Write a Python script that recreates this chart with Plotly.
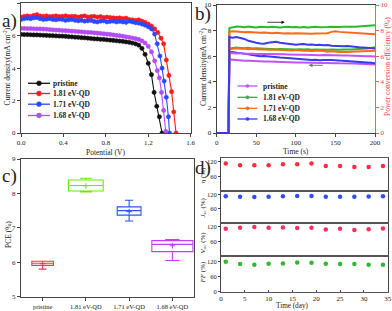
import plotly.graph_objects as go

W, H = 392, 311
FONT = "Liberation Serif"


def px(x):
    return x / W


def py(y):
    return 1 - y / H


# ---------------- (a) J-V curves ----------------
V_PLATEAU = [0.00, 0.03, 0.06, 0.09, 0.12, 0.15, 0.18, 0.21, 0.24, 0.27, 0.30, 0.33,
             0.36, 0.39, 0.42, 0.45, 0.48, 0.51, 0.54, 0.57, 0.60, 0.63, 0.66, 0.69,
             0.72, 0.75, 0.78, 0.81, 0.84, 0.87, 0.90, 0.93, 0.96, 0.99, 1.02, 1.05, 1.08]

J_PRISTINE = [6.08, 6.07, 6.07, 6.06, 6.05, 6.05, 6.04, 6.03, 6.02, 6.01, 6.00, 5.99,
              5.98, 5.97, 5.96, 5.94, 5.93, 5.91, 5.90, 5.88, 5.87, 5.85, 5.83, 5.81,
              5.80, 5.78, 5.77, 5.75, 5.73, 5.71, 5.69, 5.67, 5.65, 5.62, 5.59, 5.55, 5.50]
V_TAIL_PRISTINE = [1.11, 1.14, 1.17, 1.20, 1.23, 1.255, 1.28, 1.305, 1.33]
J_TAIL_PRISTINE = [5.42, 5.22, 4.85, 4.30, 3.60, 2.50, 1.65, 1.00, 0.00]

J_181 = [7.15, 7.20, 7.22, 7.20, 7.25, 7.30, 7.22, 7.20, 7.22, 7.18, 7.20, 7.22,
         7.18, 7.20, 7.22, 7.18, 7.20, 7.20, 7.15, 7.20, 7.22, 7.15, 7.18, 7.20,
         7.15, 7.18, 7.12, 7.15, 7.12, 7.10, 7.08, 7.10, 7.05, 7.08, 7.00, 6.98, 6.95]
V_TAIL_181 = [1.11, 1.14, 1.17, 1.20, 1.23, 1.26, 1.29, 1.32, 1.345, 1.37, 1.395, 1.42, 1.44, 1.462]
J_TAIL_181 = [6.98, 6.90, 6.82, 6.72, 6.60, 6.42, 6.20, 5.85, 5.50, 4.50, 3.55, 2.55, 1.30, 0.00]

J_171 = [7.00, 7.05, 7.08, 7.05, 7.10, 7.12, 7.05, 7.00, 7.02, 7.05, 7.00, 6.98,
         7.02, 7.00, 6.95, 6.98, 7.00, 6.95, 6.92, 6.95, 6.90, 6.92, 6.95, 6.88,
         6.85, 6.90, 6.92, 6.85, 6.88, 6.90, 6.85, 6.88, 6.85, 6.82, 6.90, 6.85, 6.80]
V_TAIL_171 = [1.11, 1.14, 1.17, 1.20, 1.23, 1.26, 1.285, 1.31, 1.33, 1.35, 1.37, 1.39, 1.40]
J_TAIL_171 = [6.78, 6.72, 6.65, 6.55, 6.42, 6.10, 5.50, 4.75, 4.00, 3.20, 2.20, 1.00, 0.00]

J_168 = [6.45, 6.45, 6.44, 6.44, 6.43, 6.42, 6.42, 6.41, 6.40, 6.38, 6.36, 6.35,
         6.34, 6.32, 6.31, 6.30, 6.28, 6.27, 6.25, 6.24, 6.22, 6.21, 6.20, 6.18,
         6.16, 6.14, 6.12, 6.10, 6.08, 6.05, 6.02, 6.00, 5.97, 5.93, 5.90, 5.86, 5.82]
V_TAIL_168 = [1.11, 1.14, 1.17, 1.20, 1.23, 1.26, 1.285, 1.305, 1.325, 1.345, 1.365]
J_TAIL_168 = [5.77, 5.68, 5.55, 5.35, 5.00, 4.45, 3.85, 3.40, 2.50, 1.40, 0.10]

LABELS = ["pristine", "1.81 eV-QD", "1.71 eV-QD", "1.68 eV-QD"]
COLORS_A = ["#111111", "#ff1a1a", "#2a48ff", "#b44cf5"]

# ---------------- (b) stability over time ----------------
T_B = [0, 15, 16, 20, 25, 30, 35, 40, 45, 50, 55, 60, 65, 70, 75, 80, 85, 90, 95, 100,
       105, 110, 115, 120, 125, 130, 135, 140, 145, 150, 155, 160, 165, 170, 175, 180,
       185, 190, 195, 200]

PCE_PRISTINE = [0, 0, 6.20, 6.25, 6.22, 6.24, 6.20, 6.22, 6.20, 6.18, 6.20, 6.18,
                6.17, 6.18, 6.15, 6.16, 6.15, 6.14, 6.15, 6.13, 6.12,
                6.12, 6.10, 6.12, 6.10, 6.08, 6.10, 6.08, 6.07, 6.08,
                6.06, 6.05, 6.06, 6.04, 6.03, 6.02, 6.03, 6.00, 6.00, 5.98]
J_T_PRISTINE = [0, 0, 5.75, 5.72, 5.70, 5.68, 5.65, 5.65, 5.62, 5.60, 5.60, 5.58,
                5.58, 5.56, 5.55, 5.55, 5.53, 5.52, 5.52, 5.50, 5.50,
                5.50, 5.48, 5.50, 5.47, 5.48, 5.46, 5.45, 5.46, 5.45,
                5.44, 5.45, 5.43, 5.42, 5.43, 5.41, 5.40, 5.40, 5.38, 5.35]
PCE_181 = [0, 0, 8.20, 8.28, 8.32, 8.30, 8.27, 8.31, 8.29, 8.25, 8.30, 8.28,
           8.26, 8.30, 8.27, 8.24, 8.28, 8.30, 8.26, 8.29, 8.25,
           8.28, 8.24, 8.27, 8.30, 8.26, 8.25, 8.28, 8.30, 8.27,
           8.29, 8.30, 8.28, 8.31, 8.30, 8.33, 8.36, 8.38, 8.40, 8.42]
J_T_181 = [0, 0, 6.60, 6.65, 6.68, 6.65, 6.62, 6.65, 6.60, 6.62, 6.60, 6.58,
           6.60, 6.58, 6.55, 6.57, 6.55, 6.58, 6.55, 6.53, 6.55,
           6.52, 6.55, 6.50, 6.52, 6.50, 6.48, 6.50, 6.52, 6.50,
           6.50, 6.52, 6.50, 6.53, 6.55, 6.55, 6.58, 6.60, 6.65, 6.70]
PCE_171 = [0, 0, 7.90, 7.95, 7.93, 7.90, 7.88, 7.90, 7.86, 7.85, 7.83, 7.85,
           7.82, 7.80, 7.83, 7.80, 7.78, 7.80, 7.77, 7.80, 7.78,
           7.76, 7.78, 7.75, 7.78, 7.80, 7.82, 7.80, 7.90, 7.95,
           7.90, 7.88, 7.85, 7.82, 7.80, 7.78, 7.75, 7.72, 7.70, 7.72]
J_T_171 = [0, 0, 6.55, 6.60, 6.62, 6.58, 6.60, 6.55, 6.58, 6.55, 6.52, 6.55,
           6.50, 6.52, 6.50, 6.48, 6.50, 6.47, 6.45, 6.48, 6.45,
           6.42, 6.45, 6.40, 6.42, 6.45, 6.40, 6.35, 6.38, 6.35,
           6.33, 6.35, 6.32, 6.35, 6.37, 6.35, 6.38, 6.40, 6.40, 6.42]
PCE_168 = [0, 0, 7.50, 7.45, 7.50, 7.42, 7.35, 7.20, 7.10, 7.05, 7.00, 6.98,
           7.05, 7.10, 7.12, 7.05, 7.00, 6.95, 6.92, 6.90, 6.93,
           6.95, 6.90, 6.92, 6.88, 6.90, 6.85, 6.88, 6.82, 6.80,
           6.82, 6.78, 6.80, 6.75, 6.72, 6.70, 6.68, 6.65, 6.62, 6.60]
J_T_168 = [0, 0, 6.30, 6.32, 6.28, 6.25, 6.20, 6.15, 6.10, 6.05, 6.00, 6.02,
           5.98, 5.95, 5.92, 5.90, 5.88, 5.85, 5.82, 5.80, 5.78,
           5.75, 5.72, 5.70, 5.72, 5.68, 5.70, 5.72, 5.70, 5.68,
           5.65, 5.62, 5.60, 5.60, 5.58, 5.55, 5.52, 5.50, 5.48, 5.45]
COLORS_B = ["#c055f5", "#2db82d", "#ff6a13", "#3a3af0"]

# ---------------- (c) PCE statistics ----------------
Q1 = [5.91, 8.07, 7.37, 6.31]
MEDIAN = [5.97, 8.23, 7.50, 6.52]
Q3 = [6.03, 8.39, 7.61, 6.63]
LOWER = [5.80, 8.04, 7.20, 6.05]
UPPER = [6.03, 8.44, 7.80, 6.66]
MEAN = [5.96, 8.22, 7.47, 6.48]
COLORS_C = ["#ff3b3b", "#6ee60a", "#2a55e8", "#c43cf5"]
BOX_WIDTHS = [0.5, 0.8, 0.55, 0.95]

# ---------------- (d) long term stability ----------------
DAYS = [1, 4, 7, 10, 13, 16, 19, 22, 25, 28, 31, 34]
ETA = [113, 106, 106, 106, 110, 110, 113, 103, 103, 99, 99, 103]
JSC = [112, 110, 109, 110, 112, 113, 113, 110, 110, 110, 111, 112]
VOC = [113, 117, 120, 117, 118, 116, 117, 109, 113, 107, 110, 114]
FF = [121, 112, 109, 113, 114, 118, 117, 113, 112, 112, 109, 109]

fig = go.Figure()

# (a)
curves_a = [
    (V_PLATEAU + V_TAIL_PRISTINE, J_PRISTINE + J_TAIL_PRISTINE),
    (V_PLATEAU + V_TAIL_181, J_181 + J_TAIL_181),
    (V_PLATEAU + V_TAIL_171, J_171 + J_TAIL_171),
    (V_PLATEAU + V_TAIL_168, J_168 + J_TAIL_168),
]
for (v, j), col in zip(curves_a, COLORS_A):
    fig.add_trace(go.Scatter(x=v, y=j, mode="lines+markers", xaxis="x", yaxis="y",
                             line=dict(color=col, width=1.1),
                             marker=dict(symbol="circle", size=4.2, color=col,
                                         line=dict(color=col, width=0.6)),
                             showlegend=False))

# (b)
pce_b = [PCE_PRISTINE, PCE_181, PCE_171, PCE_168]
j_b = [J_T_PRISTINE, J_T_181, J_T_171, J_T_168]
for p, j, col in zip(pce_b, j_b, COLORS_B):
    fig.add_trace(go.Scatter(x=T_B, y=j, mode="lines", xaxis="x2", yaxis="y2",
                             line=dict(color=col, width=2), showlegend=False))
    fig.add_trace(go.Scatter(x=T_B, y=p, mode="lines", xaxis="x2", yaxis="y3",
                             line=dict(color=col, width=2), showlegend=False))

# (c)
for i, cat in enumerate(LABELS):
    fig.add_trace(go.Box(x=[cat], q1=[Q1[i]], median=[MEDIAN[i]], q3=[Q3[i]],
                         lowerfence=[LOWER[i]], upperfence=[UPPER[i]],
                         xaxis="x3", yaxis="y4", width=BOX_WIDTHS[i],
                         line=dict(color=COLORS_C[i], width=1.1),
                         fillcolor="rgba(255,255,255,0)", whiskerwidth=0.35,
                         boxpoints=False, showlegend=False, name=cat))
fig.add_trace(go.Scatter(x=LABELS, y=MEAN, mode="markers", xaxis="x3", yaxis="y4",
                         marker=dict(symbol="cross-thin", size=4,
                                     line=dict(color=COLORS_C, width=1)),
                         showlegend=False))

# (d)
d_series = [(ETA, "#ff2d3c", "x4", "y5"), (JSC, "#2f4cff", "x5", "y6"),
            (VOC, "#ff2d5e", "x6", "y7"), (FF, "#2dbb2d", "x7", "y8")]
for vals, col, xa, ya in d_series:
    fig.add_trace(go.Scatter(x=DAYS, y=vals, mode="markers", xaxis=xa, yaxis=ya,
                             marker=dict(size=4.5, color=col), showlegend=False))

LINE = "#444444"
TICKFONT = dict(family=FONT, size=7, color="#222222")


def ax(domain, anchor, **kw):
    d = dict(domain=domain, anchor=anchor, showline=True, linecolor=LINE, linewidth=1,
             mirror=True, ticks="outside", ticklen=3, tickwidth=0.8, tickcolor=LINE,
             showgrid=False, zeroline=False, tickfont=TICKFONT, automargin=False)
    d.update(kw)
    return d


d_x = [px(221), px(387.7)]
layout = dict(
    width=W, height=H, margin=dict(l=0, r=0, t=0, b=0),
    paper_bgcolor="white", plot_bgcolor="white", boxmode="overlay",
    font=dict(family=FONT, size=7, color="#222222"),
    xaxis=ax([px(21), px(190.7)], "y", range=[0, 1.6], tickvals=[0, 0.4, 0.8, 1.2, 1.6],
             tickformat=".1f"),
    yaxis=ax([py(133), py(3.3)], "x", range=[0, 8], dtick=2),
    xaxis2=ax([px(216.7), px(375)], "y2", range=[0, 200], dtick=50),
    yaxis2=ax([py(133), py(5)], "x2", range=[0, 10], dtick=2, mirror=False),
    yaxis3=dict(overlaying="y2", side="right", anchor="x2", range=[0, 10], dtick=2,
                showline=True, linecolor="#ff5a5a", linewidth=1, ticks="outside",
                ticklen=3, tickcolor="#ff5a5a", showgrid=False, zeroline=False,
                tickfont=dict(family=FONT, size=7, color="#ff3b3b"), automargin=False),
    xaxis3=ax([px(21), px(194)], "y4", type="category", range=[-0.5, 3.5],
              tickfont=dict(family=FONT, size=6.5, color="#222222")),
    yaxis4=ax([py(296.7), py(159)], "x3", range=[5, 9], dtick=1),
    xaxis4=ax(d_x, "y5", range=[0, 35], showticklabels=False, ticks="",
              linecolor="#555555", linewidth=1.4),
    xaxis5=ax(d_x, "y6", range=[0, 35], showticklabels=False, ticks="",
              linecolor="#555555", linewidth=1.4),
    xaxis6=ax(d_x, "y7", range=[0, 35], showticklabels=False, ticks="",
              linecolor="#555555", linewidth=1.4),
    xaxis7=ax(d_x, "y8", range=[0, 35], dtick=5, linecolor="#555555", linewidth=1.4,
              ticks="inside", ticklen=2),
    yaxis5=ax([py(190.7), py(158.3)], "x4", range=[0, 135], tickvals=[60, 120],
              ticklen=2, tickfont=dict(family=FONT, size=6.5, color="#222222")),
    yaxis6=ax([py(223.3), py(190.7)], "x5", range=[0, 135], tickvals=[60, 120],
              ticklen=2, tickfont=dict(family=FONT, size=6.5, color="#222222")),
    yaxis7=ax([py(256), py(223.3)], "x6", range=[0, 135], tickvals=[60, 120],
              ticklen=2, tickfont=dict(family=FONT, size=6.5, color="#222222")),
    yaxis8=ax([py(291.7), py(256)], "x7", range=[0, 144], tickvals=[0, 60, 120],
              ticklen=2, tickfont=dict(family=FONT, size=6.5, color="#222222")),
)

annotations = []
shapes = []


def text(x, y, s, size=7.5, color="#222222", angle=0, xanchor="center", bold=False):
    annotations.append(dict(x=px(x), y=py(y), xref="paper", yref="paper", text=s,
                            showarrow=False, textangle=angle, xanchor=xanchor,
                            yanchor="middle",
                            font=dict(family=FONT, size=size, color=color)))


# panel labels
text(0, 21, "a)", size=19, xanchor="left")
text(193, 14, "b)", size=19, xanchor="left")
text(0, 176, "c)", size=19, xanchor="left")
text(192.5, 168, "d)", size=19, xanchor="left")

# axis titles
text(105, 152, "Potential (V)")
text(6.5, 67, "Current density(mA cm<sup>-2</sup>)", angle=-90)
text(203, 67, "Current density(mA cm<sup>-2</sup>)", angle=-90)
text(387, 67, "Power conversion efficiency (%)", angle=-90, color="#ff3b3b")
text(296, 151, "Time (s)")
text(8, 234, "PCE (%)", angle=-90)
text(292, 306.3, "Time (day)", size=7.2)
text(202.5, 175, "η (%)", size=7, angle=-90)
text(202.5, 208, "<i>J</i><sub>sc</sub> (%)", size=7, angle=-90)
text(202.5, 243, "<i>V</i><sub>oc</sub> (%)", size=7, angle=-90)
text(202.5, 273, "<i>FF</i> (%)", size=7, angle=-90)

# legend (a)
leg_a_y = [83.3, 93.5, 104.2, 115.5]
for lab, col, yy in zip(LABELS, COLORS_A, leg_a_y):
    shapes.append(dict(type="line", xref="paper", yref="paper", x0=px(28), x1=px(50),
                       y0=py(yy), y1=py(yy), line=dict(color=col, width=1.3)))
    shapes.append(dict(type="circle", xref="paper", yref="paper", xsizemode="pixel",
                       ysizemode="pixel", xanchor=px(39), yanchor=py(yy),
                       x0=-2.4, x1=2.4, y0=-2.4, y1=2.4, fillcolor=col,
                       line=dict(color=col, width=0.6)))
    text(51, yy, "<b>%s</b>" % lab, size=7.5, xanchor="left")

# legend (b)
leg_b_y = [86, 97.3, 108.3, 119]
for lab, col, yy in zip(LABELS, COLORS_B, leg_b_y):
    shapes.append(dict(type="line", xref="paper", yref="paper", x0=px(237.5), x1=px(257.5),
                       y0=py(yy), y1=py(yy), line=dict(color=col, width=1.3)))
    shapes.append(dict(type="circle", xref="paper", yref="paper", xsizemode="pixel",
                       ysizemode="pixel", xanchor=px(247.5), yanchor=py(yy),
                       x0=-1.6, x1=1.6, y0=-1.6, y1=1.6, fillcolor=col,
                       line=dict(color=col, width=0.5)))
    text(261, yy, "<b>%s</b>" % lab, size=7.5, xanchor="left")

# arrows in (b)
annotations.append(dict(x=86, y=8.65, ax=62, ay=8.65, xref="x2", yref="y2",
                        axref="x2", ayref="y2", showarrow=True, arrowhead=2,
                        arrowsize=0.8, arrowwidth=0.8, arrowcolor="#111111", text=""))
annotations.append(dict(x=116, y=5.29, ax=136, ay=5.29, xref="x2", yref="y2",
                        axref="x2", ayref="y2", showarrow=True, arrowhead=2,
                        arrowsize=0.8, arrowwidth=1.0, arrowcolor="#777777", text=""))

layout["annotations"] = annotations
layout["shapes"] = shapes
fig.update_layout(**layout)
fig.write_html(
    "out.html",
    config={"displayModeBar": False},
    post_script="document.body.style.margin='0';document.body.style.padding='0';"
                "document.body.style.overflow='hidden';",
)
